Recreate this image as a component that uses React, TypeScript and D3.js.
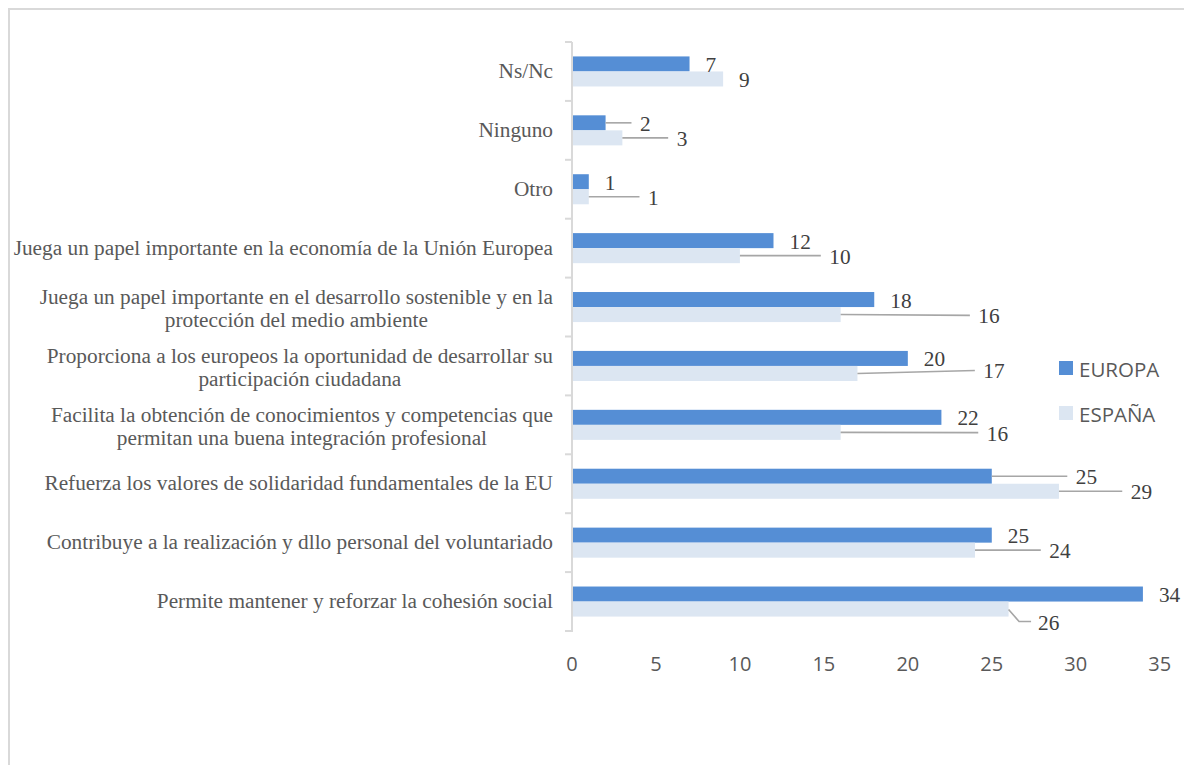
import React, { useEffect, useRef } from 'react';
import * as d3 from 'd3';

// ---------- data ----------
const categories: string[] = [
  'Ns/Nc',
  'Ninguno',
  'Otro',
  'Juega un papel importante en la economía de la Unión Europea',
  'Juega un papel importante en el desarrollo sostenible y en la protección del medio ambiente',
  'Proporciona a los europeos la oportunidad de desarrollar su participación ciudadana',
  'Facilita la obtención de conocimientos y competencias que permitan una buena integración profesional',
  'Refuerza los valores de solidaridad fundamentales de la EU',
  'Contribuye a la realización y dllo personal del voluntariado',
  'Permite mantener y reforzar la cohesión social',
];
const europa: number[] = [7, 2, 1, 12, 18, 20, 22, 25, 25, 34];
const espana: number[] = [9, 3, 1, 10, 16, 17, 16, 29, 24, 26];
const seriesNames: string[] = ['EUROPA', 'ESPAÑA'];
const xTicks: number[] = [0, 5, 10, 15, 20, 25, 30, 35];

// ---------- label layout (pixel nudges of moved data labels) ----------
const europaLabelShift: [number, number][] = [
  [0, 0], [18.4, 0], [0, 0], [0, 0], [0, 0], [0, 0], [0, 0], [68, 0], [0, 0], [0, 0],
];
const espanaLabelShift: [number, number][] = [
  [0, 0], [38.3, 0], [43.2, 0], [73.4, 0], [121.7, 0.8], [109.9, -3], [130.1, 0.3], [55.8, 0], [58.3, 0], [13.5, 12.5],
];

const COLORS = ['#558ed5', '#dce6f2'];
const W = 1184;
const H = 765;

export default function App() {
  const ref = useRef<SVGSVGElement | null>(null);

  useEffect(() => {
    const svg = d3.select(ref.current);
    svg.selectAll('*').remove();

    const x = d3.scaleLinear().domain([0, 35]).range([572, 1159.7]);
    const y = d3.scaleBand<string>().domain(categories).range([42, 631]).padding(0);
    const sub = d3
      .scaleBand<string>()
      .domain(seriesNames)
      .range([0, y.bandwidth()])
      .paddingInner(0)
      .paddingOuter(0.96);

    // outer border
    svg
      .append('rect')
      .attr('x', 9)
      .attr('y', 9)
      .attr('width', 3000)
      .attr('height', 3000)
      .attr('fill', 'none')
      .attr('stroke', '#d9d9d9')
      .attr('stroke-width', 2);

    // bars
    const series = [europa, espana];
    const shifts = [europaLabelShift, espanaLabelShift];
    series.forEach((vals, si) => {
      const name = seriesNames[si];
      svg
        .append('g')
        .selectAll('rect')
        .data(vals)
        .join('rect')
        .attr('x', x(0))
        .attr('y', (_, i) => (y(categories[i]) as number) + (sub(name) as number))
        .attr('width', (d) => x(d) - x(0))
        .attr('height', sub.bandwidth())
        .attr('fill', COLORS[si]);
    });

    // category axis line + ticks
    const axisG = svg.append('g');
    axisG
      .append('line')
      .attr('x1', x(0))
      .attr('x2', x(0))
      .attr('y1', 42)
      .attr('y2', 632)
      .attr('stroke', '#d9d9d9')
      .attr('stroke-width', 2);
    const tickYs = categories.map((c) => y(c) as number).concat([631]);
    axisG
      .selectAll('line.tick')
      .data(tickYs)
      .join('line')
      .attr('class', 'tick')
      .attr('x1', x(0) - 7)
      .attr('x2', x(0))
      .attr('y1', (d) => d)
      .attr('y2', (d) => d)
      .attr('stroke', '#d9d9d9')
      .attr('stroke-width', 2);

    // category labels with wrapping
    const catFont = 21.3;
    const lineH = 22.5;
    const maxW = 556;
    const rightX = 553;
    const catG = svg
      .append('g')
      .attr('font-family', "'Liberation Serif', 'Times New Roman', serif")
      .attr('font-size', catFont)
      .attr('fill', '#595959');
    const measure = catG.append('text').attr('visibility', 'hidden');
    const widthOf = (s: string) => {
      measure.text(s);
      return (measure.node() as SVGTextElement).getComputedTextLength();
    };
    categories.forEach((c) => {
      const words = c.split(' ');
      const lines: string[] = [];
      let cur = '';
      words.forEach((w) => {
        const t = cur ? cur + ' ' + w : w;
        if (cur && widthOf(t) > maxW) {
          lines.push(cur);
          cur = w;
        } else cur = t;
      });
      if (cur) lines.push(cur);
      const widths = lines.map(widthOf);
      const bw = Math.max(...widths);
      const cy = (y(c) as number) + y.bandwidth() / 2 + (lines.length > 1 ? 1.5 : -0.5);
      const y0 = cy - ((lines.length - 1) * lineH) / 2;
      lines.forEach((ln, li) => {
        catG
          .append('text')
          .attr('x', rightX - bw / 2)
          .attr('y', y0 + li * lineH)
          .attr('text-anchor', 'middle')
          .attr('dominant-baseline', 'central')
          .text(ln);
      });
    });
    measure.remove();

    // data labels + leader lines
    const lblG = svg
      .append('g')
      .attr('font-family', "'Liberation Serif', 'Times New Roman', serif")
      .attr('font-size', 21.3)
      .attr('fill', '#404040');
    const leadG = svg
      .append('g')
      .attr('fill', 'none')
      .attr('stroke', '#a6a6a6')
      .attr('stroke-width', 1.6);
    series.forEach((vals, si) => {
      const name = seriesNames[si];
      vals.forEach((v, i) => {
        const [dx, dy] = shifts[si][i];
        const cy = (y(categories[i]) as number) + (sub(name) as number) + sub.bandwidth() / 2;
        const tx = x(v) + 16 + dx;
        const ty = cy + dy;
        lblG
          .append('text')
          .attr('x', tx)
          .attr('y', ty + 1)
          .attr('dominant-baseline', 'central')
          .text(String(v));
        if (dx > 0) {
          const pts: [number, number][] =
            dy > 8
              ? [
                  [x(v), cy + 0.5],
                  [x(v) + 10.5, ty],
                  [tx - 7, ty],
                ]
              : [
                  [x(v), cy],
                  [tx - 8.5, ty],
                ];
          leadG.append('path').attr('d', d3.line()(pts) as string);
        }
      });
    });

    // value axis tick labels
    svg
      .append('g')
      .attr('font-family', "'Open Sans', sans-serif")
      .attr('font-size', 20)
      .attr('fill', '#595959')
      .selectAll('text')
      .data(xTicks)
      .join('text')
      .attr('x', (d) => x(d))
      .attr('y', 663)
      .attr('text-anchor', 'middle')
      .attr('dominant-baseline', 'central')
      .text((d) => String(d));

    // legend
    const leg = svg
      .append('g')
      .attr('font-family', "'Open Sans', sans-serif")
      .attr('font-size', 20.5)
      .attr('fill', '#595959');
    seriesNames.forEach((s, si) => {
      const ly = 361 + si * 45;
      leg.append('rect').attr('x', 1059).attr('y', ly).attr('width', 14).attr('height', 14).attr('fill', COLORS[si]);
      leg
        .append('text')
        .attr('x', 1079)
        .attr('y', ly + 7.5)
        .attr('dominant-baseline', 'central')
        .text(s);
    });
  }, []);

  return (
    <svg
      ref={ref}
      width={W}
      height={H}
      style={{ position: 'absolute', left: 0, top: 0, background: '#fff' }}
    />
  );
}
